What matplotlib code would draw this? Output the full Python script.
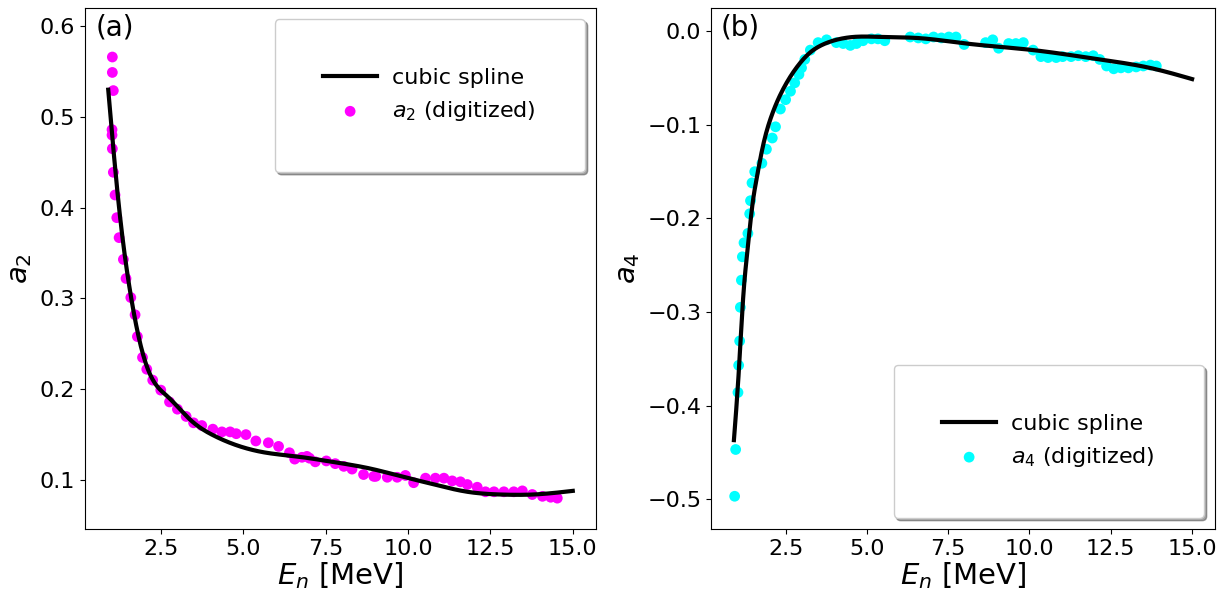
import numpy as np
import matplotlib
matplotlib.use("Agg")
import matplotlib.pyplot as plt

# ---------------- data ----------------
a2_E = [1.025, 1.025, 1.055, 1.015, 1.015, 1.025, 1.055, 1.107, 1.16, 1.23, 1.36, 1.44, 1.585,
        1.715, 1.785, 1.94, 2.07, 2.25, 2.495, 2.76, 3.0, 3.265, 3.49, 3.74, 4.075, 4.35, 4.6,
        4.785, 5.08, 5.38, 5.76, 6.07, 6.40, 6.56, 6.78, 6.93, 7.01, 7.185, 7.52, 7.79, 8.05,
        8.30, 8.65, 8.96, 9.02, 9.37, 9.67, 9.92, 10.17, 10.53, 10.83, 11.09, 11.34, 11.59,
        11.80, 12.10, 12.35, 12.61, 12.91, 13.21, 13.47, 13.77, 14.08, 14.33, 14.53]
a2_val = [0.566, 0.549, 0.529, 0.486, 0.480, 0.465, 0.439, 0.414, 0.389, 0.367, 0.343, 0.322, 0.301,
          0.282, 0.258, 0.235, 0.222, 0.210, 0.199, 0.186, 0.178, 0.170, 0.163, 0.160, 0.156, 0.153, 0.153,
          0.151, 0.150, 0.143, 0.141, 0.137, 0.130, 0.123, 0.125, 0.126, 0.124, 0.120, 0.121, 0.118, 0.115,
          0.112, 0.106, 0.104, 0.104, 0.103, 0.103, 0.105, 0.097, 0.102, 0.102, 0.102, 0.099, 0.098,
          0.095, 0.092, 0.087, 0.087, 0.087, 0.087, 0.088, 0.084, 0.082, 0.081, 0.080]

a2_knot_E = [0.9, 1.2, 1.6, 1.9, 2.2, 2.7, 3.4, 4.1, 4.9, 5.7, 6.6, 7.7, 8.8, 9.8, 10.8, 11.8, 12.8, 13.8, 15.0]
a2_knot_v = [0.530, 0.410, 0.300, 0.246, 0.214, 0.192, 0.166, 0.149, 0.137, 0.130, 0.126, 0.120,
             0.113, 0.104, 0.095, 0.087, 0.084, 0.084, 0.088]

a4_E = [0.933, 0.964, 1.035, 1.056, 1.087, 1.108, 1.14, 1.17, 1.22, 1.34, 1.395, 1.42, 1.466, 1.55,
        1.77, 1.91, 2.09, 2.19, 2.34, 2.50, 2.65, 2.78, 2.91, 2.99, 3.09, 3.26, 3.50, 3.76, 4.06,
        4.27, 4.49, 4.68, 4.88, 5.14, 5.34, 5.55, 6.33, 6.58, 6.81, 7.05, 7.29, 7.52, 7.74, 7.99,
        8.65, 8.87, 9.05, 9.36, 9.58, 9.81, 10.11, 10.35, 10.57, 10.82, 11.02, 11.28, 11.50, 11.73,
        11.96, 12.16, 12.37, 12.59, 12.81, 13.04, 13.28, 13.50, 13.72, 13.90]
a4_val = [-0.497, -0.447, -0.386, -0.357, -0.331, -0.295, -0.266, -0.241, -0.226, -0.216, -0.195, -0.181,
          -0.162, -0.150, -0.141, -0.126, -0.114, -0.102, -0.083, -0.073, -0.064, -0.055, -0.046, -0.039,
          -0.030, -0.020, -0.012, -0.009, -0.012, -0.013, -0.015, -0.013, -0.010, -0.008, -0.008, -0.010,
          -0.006, -0.007, -0.008, -0.006, -0.007, -0.006, -0.006, -0.014, -0.012, -0.009, -0.018, -0.013,
          -0.013, -0.012, -0.020, -0.027, -0.028, -0.028, -0.027, -0.027, -0.026, -0.027, -0.026, -0.030,
          -0.037, -0.040, -0.039, -0.039, -0.038, -0.037, -0.036, -0.037]

a4_knot_E = [0.91, 1.07, 1.19, 1.33, 1.50, 1.60, 1.80, 2.06, 2.42, 2.83, 3.24, 3.65, 4.06, 4.57,
             5.50, 6.52, 8.06, 10.11, 12.16, 13.70, 15.0]
a4_knot_v = [-0.437, -0.358, -0.287, -0.233, -0.180, -0.159, -0.123, -0.091, -0.062, -0.039, -0.023,
             -0.014, -0.009, -0.006, -0.006, -0.007, -0.013, -0.020, -0.030, -0.039, -0.051]


def natural_cubic_spline(xk, yk, xs):
    xk = np.asarray(xk, float)
    yk = np.asarray(yk, float)
    n = len(xk)
    h = np.diff(xk)
    A = np.zeros((n, n))
    b = np.zeros(n)
    A[0, 0] = 1.0
    A[-1, -1] = 1.0
    for i in range(1, n - 1):
        A[i, i - 1] = h[i - 1]
        A[i, i] = 2 * (h[i - 1] + h[i])
        A[i, i + 1] = h[i]
        b[i] = 3 * ((yk[i + 1] - yk[i]) / h[i] - (yk[i] - yk[i - 1]) / h[i - 1])
    c = np.linalg.solve(A, b)
    idx = np.clip(np.searchsorted(xk, xs) - 1, 0, n - 2)
    hi = h[idx]
    bb = (yk[idx + 1] - yk[idx]) / hi - hi * (2 * c[idx] + c[idx + 1]) / 3
    d = (c[idx + 1] - c[idx]) / (3 * hi)
    t = xs - xk[idx]
    return yk[idx] + bb * t + c[idx] * t ** 2 + d * t ** 3


fig = plt.figure(figsize=(12.29, 5.93), dpi=100)
W, H = 1229, 593
ax1 = fig.add_axes([85 / W, 1 - 529 / H, (596 - 85) / W, (529 - 8) / H])
ax2 = fig.add_axes([711 / W, 1 - 529 / H, (1215 - 711) / W, (529 - 8) / H])

panels = [
    (ax1, a2_knot_E, a2_knot_v, a2_E, a2_val, '#ff00ff', r'$a_2$ (digitized)', r'$a_2$', '(a)',
     'upper right', (0.046, 0.620)),
    (ax2, a4_knot_E, a4_knot_v, a4_E, a4_val, '#00ffff', r'$a_4$ (digitized)', r'$a_4$', '(b)',
     'lower right', (-0.532, 0.025)),
]

for ax, kx, ky, px, py, col, lab, ylab, tag, loc, ylim in panels:
    xs = np.linspace(kx[0], kx[-1], 400)
    ax.plot(xs, natural_cubic_spline(kx, ky, xs), color='black', lw=3, label='cubic spline', zorder=3)
    ax.scatter(px, py, s=60, color=col, label=lab, zorder=2, edgecolors='none')
    ax.set_ylim(*ylim)
    ax.set_xticks([2.5, 5.0, 7.5, 10.0, 12.5, 15.0])
    ax.tick_params(labelsize=16)
    ax.set_xlabel(r'$E_n$ [MeV]', fontsize=21, labelpad=1)
    ax.set_ylabel(ylab, fontsize=21)
    ax.text(0.02, 0.99, tag, transform=ax.transAxes, fontsize=20, va='top', ha='left')
    ax.legend(loc=loc, fontsize=16, shadow=True, borderpad=2.2, handlelength=2.4,
              handletextpad=0.7)

fig.savefig('out.png', dpi=100)
